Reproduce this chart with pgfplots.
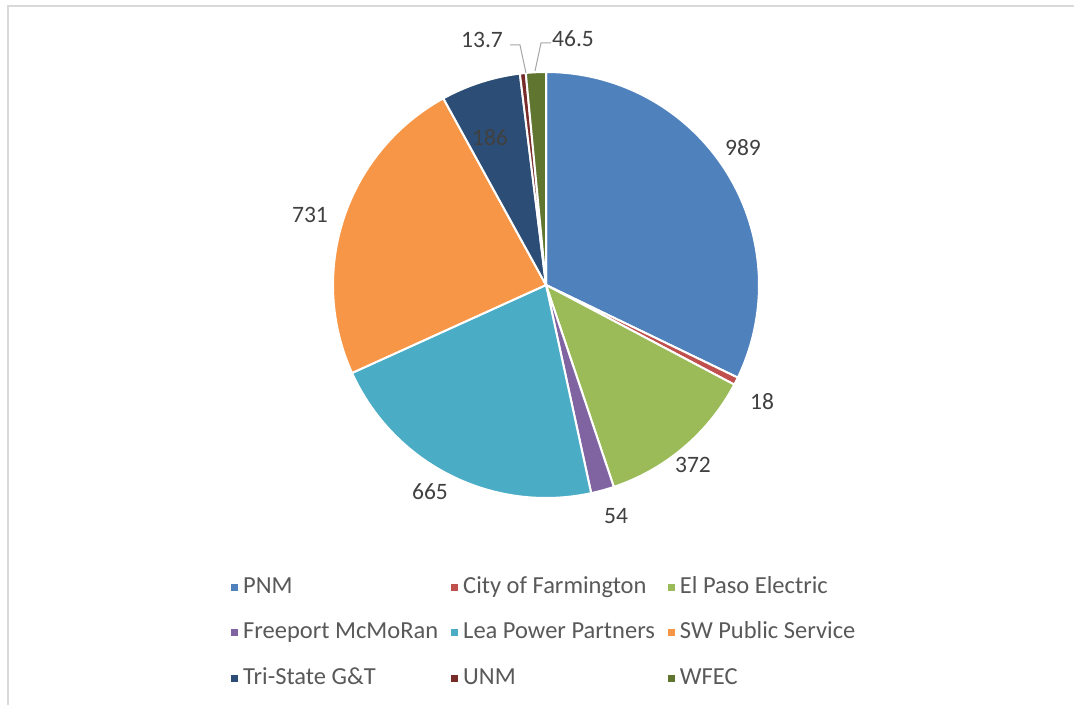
\documentclass[border=0pt]{standalone}
\usepackage{fontspec}
\setmainfont{Carlito}
\usepackage{pgfplots}
\pgfplotsset{compat=1.18}
\definecolor{cPNM}{HTML}{4F81BD}
\definecolor{cFarm}{HTML}{C0504D}
\definecolor{cElPaso}{HTML}{9BBB59}
\definecolor{cFree}{HTML}{8064A2}
\definecolor{cLea}{HTML}{4BACC6}
\definecolor{cSW}{HTML}{F79646}
\definecolor{cTri}{HTML}{2C4D75}
\definecolor{cUNM}{HTML}{772C2A}
\definecolor{cWFEC}{HTML}{5F7530}
\definecolor{labtxt}{HTML}{404040}
\definecolor{legtxt}{HTML}{595959}
\definecolor{leader}{HTML}{A6A6A6}
\definecolor{frame}{HTML}{D9D9D9}
% slice from cumulative value #1 to cumulative value #2 (total 3075.2)
\newcommand\pieslice[3]{%
\addplot[draw=white,line width=2bp,line join=round,fill=#3,
  domain={90-360*(#2)/3075.2}:{90-360*(#1)/3075.2},samples=90,variable=\t]
  ({cos(\t)},{sin(\t)}) -- (axis cs:0,0) -- cycle;}
\newcommand\lab[3]{\node[text=labtxt,font=\fontsize{23.5bp}{26bp}\selectfont,inner sep=0pt]
  at (axis cs:{(#1-546)/213},{(285-#2)/213}) {#3};}
\begin{document}
\begin{tikzpicture}
\useasboundingbox (0,0) rectangle (1074bp,705bp);
\fill[white] (0,0) rectangle (1074bp,705bp);
\draw[frame,line width=2bp] (8bp,0) -- (8bp,699bp) -- (1074bp,699bp);
\begin{axis}[anchor=south west, at={(0,0)}, scale only axis,
  x=213bp, y=213bp,
  xmin=-2.56338, xmax=2.47887, ymin=-1.97183, ymax=1.33803,
  hide axis, clip=false,
  legend columns=3,
  legend cell align=left,
  legend image code/.code={\fill[#1] (0bp,-4.5bp) rectangle (9bp,4.5bp);},
  legend style={draw=none, fill=none, inner sep=0pt,
    at={(axis cs:{(229-546)/213},{(285-573)/213})}, anchor=north west,
    font=\fontsize{24.5bp}{27bp}\selectfont, text=legtxt,
    nodes={inner sep=3bp, text height=17bp, text depth=5bp},
    row sep=17.5bp,
    /tikz/every even column/.append style={column sep=8bp}},
]
\pieslice{0}{989}{cPNM}\addlegendentry{PNM}
\pieslice{989}{1007}{cFarm}\addlegendentry{City of Farmington}
\pieslice{1007}{1379}{cElPaso}\addlegendentry{El Paso Electric}
\pieslice{1379}{1433}{cFree}\addlegendentry{Freeport McMoRan}
\pieslice{1433}{2098}{cLea}\addlegendentry{Lea Power Partners}
\pieslice{2098}{2829}{cSW}\addlegendentry{SW Public Service}
\pieslice{2829}{3015}{cTri}\addlegendentry{Tri-State G\&T}
\pieslice{3015}{3028.7}{cUNM}\addlegendentry{UNM}
\pieslice{3028.7}{3075.2}{cWFEC}\addlegendentry{WFEC}
\lab{743}{148}{989}
\lab{762}{402}{18}
\lab{693}{465}{372}
\lab{616}{516}{54}
\lab{430}{492}{665}
\lab{310}{215}{731}
\lab{490}{138}{186}
\lab{482}{40}{13.7}
\lab{573}{39}{46.5}
\draw[leader,line width=1bp] (axis cs:{(510-546)/213},{(285-45)/213}) -- (axis cs:{(520-546)/213},{(285-45)/213}) -- (axis cs:{(526-546)/213},{(285-73)/213});
\draw[leader,line width=1bp] (axis cs:{(551-546)/213},{(285-43)/213}) -- (axis cs:{(541-546)/213},{(285-43)/213}) -- (axis cs:{(535-546)/213},{(285-71)/213});
\end{axis}
\end{tikzpicture}
\end{document}
